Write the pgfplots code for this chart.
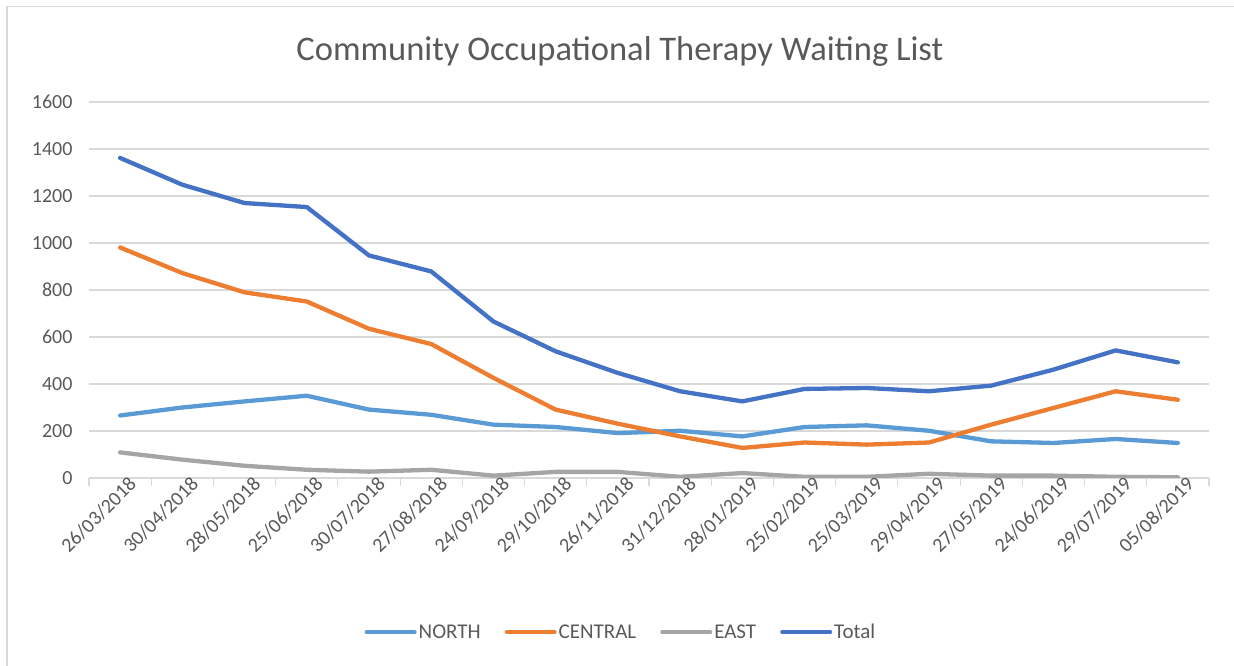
\documentclass[border=0pt]{standalone}
\usepackage{pgfplots}
\pgfplotsset{compat=1.18}
\usepackage{fontspec}
\setmainfont{Carlito}
\definecolor{cNorth}{HTML}{5B9BD5}
\definecolor{cCentral}{HTML}{ED7D31}
\definecolor{cEast}{HTML}{A5A5A5}
\definecolor{cTotal}{HTML}{4472C4}
\definecolor{gridc}{HTML}{D9D9D9}
\definecolor{labelc}{HTML}{595959}
\definecolor{framec}{HTML}{D9D9D9}
\begin{document}
\begin{tikzpicture}[x=1pt,y=1pt]
\path[use as bounding box] (0,0) rectangle (1234,666);
\draw[color=framec, line width=1.5pt] (7,0) -- (7,659.5) -- (1234,659.5);
\begin{axis}[
  at={(89pt,188pt)}, anchor=south west, scale only axis,
  width=1120pt, height=376pt,
  xmin=-0.5, xmax=17.5, ymin=0, ymax=1600,
  ytick={0,200,...,1600},
  yticklabels={0,200,400,600,800,1000,1200,1400,1600},
  xtick={0,...,17},
  xticklabels={26/03/2018,30/04/2018,28/05/2018,25/06/2018,30/07/2018,27/08/2018,24/09/2018,29/10/2018,26/11/2018,31/12/2018,28/01/2019,25/02/2019,25/03/2019,29/04/2019,27/05/2019,24/06/2019,29/07/2019,05/08/2019},
  minor xtick={-0.5,0.5,...,17.5},
  major tick length=0pt, minor tick length=8pt, tick align=outside,
  axis x line*=bottom, axis y line*=left,
  x axis line style={draw=gridc, line width=1.2pt},
  y axis line style={draw=none},
  every tick/.style={color=gridc, line width=1.2pt},
  ymajorgrids, grid style={color=gridc, line width=1.2pt},
  tick label style={font=\fontsize{20}{24}\selectfont, text=labelc},
  yticklabel style={anchor=east, xshift=-13pt},
  xticklabel style={rotate=45, anchor=east, xshift=8pt, yshift=-11pt, inner sep=1pt},
  title={Community Occupational Therapy Waiting List},
  title style={at={(0.474,1.118)}, anchor=center, font=\fontsize{34.5}{40}\selectfont, text=labelc},
  legend style={at={(0.475,-0.41)}, anchor=center, draw=none, fill=none,
    legend columns=4, font=\fontsize{21}{25}\selectfont, text=labelc,
    /tikz/every even column/.append style={column sep=22pt}},
  legend image code/.code={\draw[#1, line width=4pt, line cap=round] (0pt,0pt) -- (48pt,0pt);},
  every axis plot/.append style={line width=4.3pt, line join=round, line cap=round, mark=none},
]
\addplot[color=cNorth] coordinates {(0,266)(1,300)(2,326)(3,350)(4,291)(5,269)(6,227)(7,217)(8,191)(9,201)(10,177)(11,217)(12,224)(13,201)(14,156)(15,149)(16,166)(17,149)};
\addlegendentry{NORTH}
\addplot[color=cCentral] coordinates {(0,981)(1,872)(2,790)(3,751)(4,635)(5,570)(6,426)(7,291)(8,231)(9,177)(10,128)(11,151)(12,142)(13,151)(14,227)(15,298)(16,369)(17,333)};
\addlegendentry{CENTRAL}
\addplot[color=cEast] coordinates {(0,109)(1,78)(2,52)(3,35)(4,27)(5,35)(6,10)(7,26)(8,26)(9,5)(10,21)(11,5)(12,5)(13,18)(14,10)(15,10)(16,5)(17,3)};
\addlegendentry{EAST}
\addplot[color=cTotal] coordinates {(0,1362)(1,1248)(2,1170)(3,1153)(4,947)(5,879)(6,666)(7,539)(8,447)(9,369)(10,326)(11,379)(12,383)(13,369)(14,393)(15,461)(16,543)(17,492)};
\addlegendentry{Total}
\end{axis}
\end{tikzpicture}
\end{document}
